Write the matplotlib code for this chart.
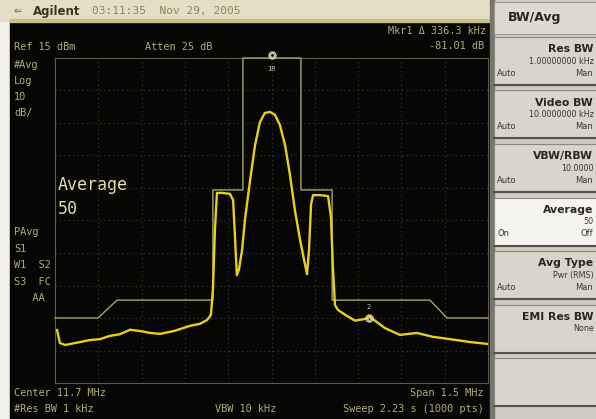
import numpy as np
import matplotlib
matplotlib.use("Agg")
import matplotlib.pyplot as plt
from matplotlib.patches import Rectangle

# analyzer settings
center_mhz = 11.7
span_mhz = 1.5
ref_dbm = 15
db_per_div = 10

# averaged trace (MHz, dBm)
trace_f = [10.957, 10.967, 10.985, 11.037, 11.070, 11.106, 11.140, 11.175, 11.210,
           11.244, 11.280, 11.314, 11.366, 11.418, 11.452, 11.477, 11.490, 11.497,
           11.504, 11.511, 11.528, 11.556, 11.567, 11.574, 11.580, 11.587, 11.598,
           11.608, 11.626, 11.643, 11.660, 11.677, 11.695, 11.712, 11.729, 11.747,
           11.764, 11.781, 11.799, 11.813, 11.823, 11.830, 11.837, 11.844, 11.868,
           11.896, 11.906, 11.913, 11.920, 11.930, 11.955, 11.989, 12.024, 12.041,
           12.058, 12.093, 12.145, 12.204, 12.259, 12.318, 12.388, 12.450]
trace_db = [-68.7, -72.7, -73.3, -72.4, -71.8, -71.5, -70.5, -70.0, -68.6,
            -69.0, -69.6, -69.9, -68.9, -67.4, -66.8, -65.6, -64.1, -56.4,
            -37.9, -26.5, -26.5, -26.8, -28.7, -41.0, -51.8, -50.2, -44.1,
            -34.8, -22.5, -11.8, -4.7, -1.9, -1.6, -2.5, -5.6, -11.8,
            -21.0, -31.8, -41.0, -47.2, -51.5, -44.0, -30.0, -27.2, -27.2,
            -27.5, -34.0, -50.0, -61.0, -62.5, -64.0, -65.8, -65.3, -64.7,
            -65.8, -68.1, -70.2, -69.6, -70.8, -71.5, -72.4, -73.0]

# limit line (MHz, dBm)
mask_f = [10.950, 11.099, 11.165, 11.497, 11.497, 11.601, 11.601,
          11.802, 11.802, 11.910, 11.910, 12.249, 12.308, 12.450]
mask_db = [-65.0, -65.0, -59.5, -59.5, -25.6, -25.6, 15.0,
           15.0, -25.6, -25.6, -59.5, -59.5, -65.0, -65.0]

mkr1 = (11.70, 16.0)
mkr2 = (12.038, -65.0)

left_labels = ["#Avg", "Log", "10", "dB/"]
status_labels = ["PAvg", "S1", "W1  S2", "S3  FC", "   AA"]

softkeys = [
    ("Res BW", "1.00000000 kHz", ("Auto", "Man")),
    ("Video BW", "10.0000000 kHz", ("Auto", "Man")),
    ("VBW/RBW", "10.0000", ("Auto", "Man")),
    ("Average", "50", ("On", "Off")),
    ("Avg Type", "Pwr (RMS)", ("Auto", "Man")),
    ("EMI Res BW", "None", None),
    ("", "", None),
]

W, H = 596, 419
fig = plt.figure(figsize=(W / 100, H / 100), dpi=100)
fig.patch.set_facecolor("#cfcbc2")

# background / bezel in pixel coordinates
bg = fig.add_axes([0, 0, 1, 1])
bg.set_xlim(0, W)
bg.set_ylim(H, 0)
bg.axis("off")

bg.add_patch(Rectangle((0, 0), 12, H, color="#f2f0e8"))
bg.add_patch(Rectangle((10, 21), 481, 398, color="#060604"))
bg.add_patch(Rectangle((0, 0), 492, 21, color="#e4dec6"))
bg.add_patch(Rectangle((10, 19), 481, 3, color="#c9c08a"))
bg.add_patch(Rectangle((490, 0), 4, H, color="#77756e"))

mono = "DejaVu Sans Mono"
scr = "#b3ab76"
small = 7.4

bg.text(14, 11, "\u21d0", fontsize=7, color="#6c6a5a", va="center")
bg.text(33, 11, "Agilent", fontsize=8.5, fontweight="bold", color="#3a3424", va="center")
bg.text(92, 11, "03:11:35  Nov 29, 2005", fontsize=8, family=mono, color="#8c8458", va="center")

bg.text(14, 47, "Ref 15 dBm", fontsize=small, family=mono, color=scr, va="center")
bg.text(145, 47, "Atten 25 dB", fontsize=small, family=mono, color=scr, va="center")
bg.text(486, 31, "Mkr1 \u0394 336.3 kHz", fontsize=small, family=mono, color=scr, va="center", ha="right")
bg.text(484, 46, "-81.01 dB", fontsize=small, family=mono, color=scr, va="center", ha="right")
for i, s in enumerate(left_labels):
    bg.text(14, 65 + i * 16, s, fontsize=small, family=mono, color=scr, va="center")
for i, s in enumerate(status_labels):
    bg.text(14, 232 + i * 16.5, s, fontsize=small, family=mono, color=scr, va="center")

bg.text(14, 393, "Center 11.7 MHz", fontsize=small, family=mono, color=scr, va="center")
bg.text(484, 393, "Span 1.5 MHz", fontsize=small, family=mono, color=scr, va="center", ha="right")
bg.text(14, 409, "#Res BW 1 kHz", fontsize=small, family=mono, color=scr, va="center")
bg.text(215, 409, "VBW 10 kHz", fontsize=small, family=mono, color=scr, va="center")
bg.text(484, 409, "Sweep 2.23 s (1000 pts)", fontsize=small, family=mono, color=scr, va="center", ha="right")

bg.text(58, 185, "Average", fontsize=12, family=mono, color="#e6dea0", va="center")
bg.text(58, 209, "50", fontsize=12, family=mono, color="#e6dea0", va="center")

# softkey panel
bg.add_patch(Rectangle((494, 2), 110, 32, facecolor="#dedad0", edgecolor="#9a968c", lw=0.8))
bg.text(535, 17, "BW/Avg", fontsize=9, fontweight="bold", color="#2a2620", va="center", ha="center")
for i, (title, value, pair) in enumerate(softkeys):
    top = 37 + i * 53.5
    face = "#f6f4f0" if title == "Average" else "#d9d5cb"
    bg.add_patch(Rectangle((494, top), 110, 48, facecolor=face, edgecolor="#8a867c", lw=0.8))
    bg.plot([494, 600], [top + 48, top + 48], color="#55524a", lw=1.5)
    if title:
        bg.text(593, top + 12, title, fontsize=7.8, fontweight="bold", color="#2a2620", va="center", ha="right")
        bg.text(594, top + 24, value, fontsize=5.8, color="#3c3830", va="center", ha="right")
    if pair:
        bg.text(497, top + 36, pair[0], fontsize=6, color="#3c3830", va="center")
        bg.text(593, top + 36, pair[1], fontsize=6, color="#3c3830", va="center", ha="right")

# graticule
ax = fig.add_axes([55 / W, 1 - 383 / H, 433 / W, 325 / H])
ax.set_facecolor("none")
ax.set_xlim(center_mhz - span_mhz / 2, center_mhz + span_mhz / 2)
ax.set_ylim(ref_dbm - 10 * db_per_div, ref_dbm)
ax.set_xticks(np.linspace(center_mhz - span_mhz / 2, center_mhz + span_mhz / 2, 11))
ax.set_yticks(np.linspace(ref_dbm - 10 * db_per_div, ref_dbm, 11))
ax.grid(True, color="#404034", lw=0.8, ls=(0, (1, 3)))
ax.tick_params(length=0, labelbottom=False, labelleft=False)
for s in ax.spines.values():
    s.set_color("#5c5c46")
    s.set_linewidth(0.8)

ax.plot(mask_f, mask_db, color="#a6a66a", lw=1.0, zorder=3, clip_on=False)
ax.plot(trace_f, trace_db, color="#e8cf1c", lw=1.7, zorder=4)

ax.plot(*mkr1, marker="o", ms=5, mfc="none", mec="#d8d8b0", mew=1, clip_on=False, zorder=5)
ax.plot(*mkr1, marker="D", ms=2.5, mfc="none", mec="#d8d8b0", mew=0.8, clip_on=False, zorder=5)
ax.text(mkr1[0], 11.5, "1R", fontsize=5, family=mono, color="#c8c8a0", ha="center", va="center")
ax.plot(*mkr2, marker="o", ms=5, mfc="none", mec="#d8d8b0", mew=1, zorder=5)
ax.plot(*mkr2, marker="D", ms=2.5, mfc="none", mec="#d8d8b0", mew=0.8, zorder=5)
ax.text(mkr2[0], -61.5, "2", fontsize=5, family=mono, color="#c8c8a0", ha="center", va="center")

fig.savefig("out.png", dpi=100, facecolor=fig.get_facecolor())
